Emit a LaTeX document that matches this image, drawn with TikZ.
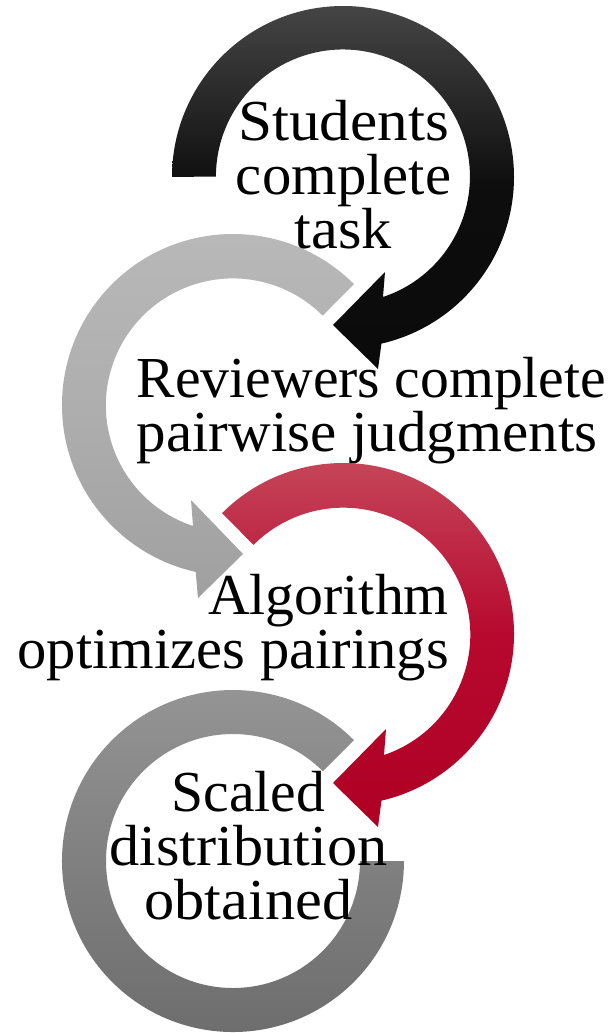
\documentclass[tikz,border=0pt]{standalone}
\usepackage{graphicx}
\usepackage{fontspec}
\setmainfont{Liberation Serif}
\definecolor{blkT}{HTML}{454545}
\definecolor{blkM}{HTML}{0D0D0D}
\definecolor{blkB}{HTML}{0B0B0B}
\definecolor{lgT}{HTML}{B9B9B9}
\definecolor{lgM}{HTML}{AEAEAE}
\definecolor{lgB}{HTML}{A0A0A0}
\definecolor{redT}{HTML}{C64A5C}
\definecolor{redM}{HTML}{B7082E}
\definecolor{redB}{HTML}{AF0024}
\definecolor{dgT}{HTML}{969696}
\definecolor{dgM}{HTML}{808080}
\definecolor{dgB}{HTML}{6C6C6C}
\newcommand{\hs}[2]{\scalebox{#1}[1]{#2}}
\tikzset{
  lbl/.style={inner sep=0pt,font=\fontsize{58}{54}\selectfont,text=black},
}
\begin{document}
\begin{tikzpicture}[x=1pt,y=1pt,yscale=-1]
\path[use as bounding box,fill=white] (0,0) rectangle (611,1033);
% top black arrow
\shade[top color=blkT,bottom color=blkB,middle color=blkM]
  (172,177) arc[start angle=180,end angle=437,radius=171pt]
  -- (378,369) -- (333,325) -- (385,272) -- (383,297)
  arc[start angle=431.6,end angle=180,radius=127pt] -- cycle;
% light gray arrow
\shade[top color=lgT,bottom color=lgB,middle color=lgM]
  (353.9,284.1) arc[start angle=-45,end angle=-257.4,radius=171pt]
  -- (198,598) -- (243,554) -- (191,500) -- (193,526)
  arc[start angle=-251.7,end angle=-45,radius=127pt] -- cycle;
% red arrow
\shade[top color=redT,bottom color=redB,middle color=redM]
  (222.1,513.1) arc[start angle=-135,end angle=77,radius=171pt]
  -- (378,827) -- (333,783) -- (386,729) -- (384,755)
  arc[start angle=71.3,end angle=-135,radius=127pt] -- cycle;
% dark gray ring
\shade[top color=dgT,bottom color=dgB,middle color=dgM]
  (353.9,740.1) arc[start angle=-45,end angle=-360,radius=171pt]
  -- (360,861)
  arc[start angle=-360,end angle=-45,radius=127pt] -- cycle;
\node[lbl,align=center] (students) at (343.5,175) {\hs{1.056}{Students}\\\hs{1.012}{complete}\\\hs{1.04}{task}};
\node[lbl,align=left,anchor=west] (reviewers) at (136.5,411) {\hs{0.995}{Reviewers complete}\\\hs{1.018}{pairwise judgments}};
\node[lbl,align=right,anchor=east] (algorithm) at (449,628) {\hs{0.996}{Algorithm}\\\hs{1.01}{optimizes pairings}};
\node[lbl,align=center] (scaled) at (248.5,845.5) {\hs{0.994}{Scaled}\\\hs{1.04}{distribution}\\\hs{1.04}{obtained}};
\end{tikzpicture}
\end{document}
